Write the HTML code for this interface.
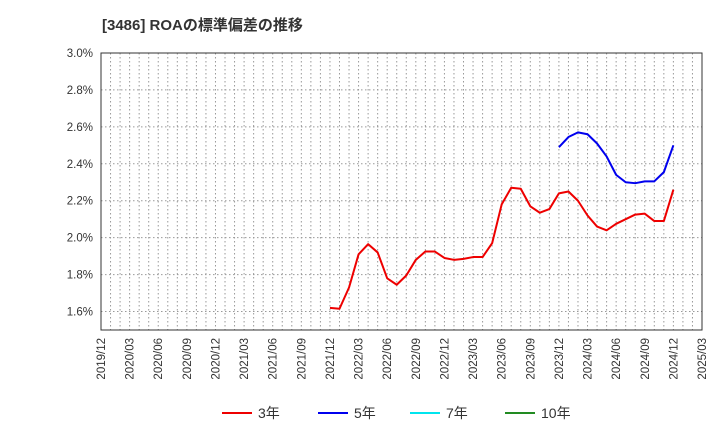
<!DOCTYPE html>
<html><head><meta charset="utf-8"><style>
body{margin:0;background:#fff;font-family:"Liberation Sans","Noto Sans CJK JP",sans-serif;}
</style></head><body>
<svg id="c" width="720" height="440" xmlns="http://www.w3.org/2000/svg" font-family="Liberation Sans, Noto Sans CJK JP, sans-serif">
<text x="102" y="30" font-size="15" font-weight="bold" fill="#333">[3486]  ROAの標準偏差の推移</text>
<g id="grid"></g><g id="axes"></g><g id="series"></g>
<g font-size="14" fill="#333">
<line x1="222" y1="413" x2="252" y2="413" stroke="#ee0000" stroke-width="2"/><text x="258" y="418">3年</text>
<line x1="318" y1="413" x2="348" y2="413" stroke="#0000ee" stroke-width="2"/><text x="354" y="418">5年</text>
<line x1="410" y1="413" x2="440" y2="413" stroke="#00e5ee" stroke-width="2"/><text x="446" y="418">7年</text>
<line x1="505" y1="413" x2="535" y2="413" stroke="#228b22" stroke-width="2"/><text x="541" y="418">10年</text>
</g>
</svg>
<script>
const yTicks=[1.6,1.8,2.0,2.2,2.4,2.6,2.8,3.0];
const xTickLabels=["2019/12","2020/03","2020/06","2020/09","2020/12","2021/03","2021/06","2021/09","2021/12","2022/03","2022/06","2022/09","2022/12","2023/03","2023/06","2023/09","2023/12","2024/03","2024/06","2024/09","2024/12","2025/03"];
const red3=[1.62,1.615,1.73,1.91,1.965,1.92,1.78,1.745,1.795,1.88,1.925,1.925,1.89,1.88,1.885,1.895,1.895,1.97,2.18,2.27,2.265,2.17,2.135,2.155,2.24,2.25,2.2,2.12,2.06,2.04,2.075,2.10,2.125,2.13,2.09,2.09,2.26];
const red3Start=24; // months after 2019/12
const blue5=[2.49,2.545,2.57,2.56,2.51,2.44,2.34,2.30,2.295,2.305,2.305,2.355,2.50];
const blue5Start=48;
const L=101,R=702,T=53,B=330,yMin=1.5,yMax=3.0,nMonths=63;
const X=m=>L+(R-L)*m/nMonths;
const Y=v=>B-(B-T)*(v-yMin)/(yMax-yMin);
const ns="http://www.w3.org/2000/svg";
function mk(t,a,p){const e=document.createElementNS(ns,t);for(const k in a)e.setAttribute(k,a[k]);p.appendChild(e);return e;}
const g=document.getElementById('grid'),ax=document.getElementById('axes'),s=document.getElementById('series');
for(let m=1;m<nMonths;m++){const l=mk('line',{x1:X(m),x2:X(m),y1:T,y2:B,stroke:'#999','stroke-dasharray':'1.5,2.5'},g);
}
yTicks.forEach(v=>{const l=mk('line',{x1:L,x2:R,y1:Y(v),y2:Y(v),stroke:'#999','stroke-dasharray':'1.5,2.5'},g);

const t=mk('text',{x:L-8,y:Y(v)+4,'text-anchor':'end','font-size':'11.5',fill:'#333'},ax);t.textContent=v.toFixed(1)+'%';
});
xTickLabels.forEach((lab,i)=>{const x=X(i*3);const t=mk('text',{x:x+4,y:B+8,'text-anchor':'end','font-size':'11.5',fill:'#333',transform:`rotate(-90 ${x+4} ${B+8})`},ax);t.textContent=lab;
});
const fr=mk('rect',{x:L,y:T,width:R-L,height:B-T,fill:'none',stroke:'#333'},ax);

function line(vals,start,col,name){const p=mk('polyline',{points:vals.map((v,i)=>X(start+i)+','+Y(v)).join(' '),fill:'none',stroke:col,'stroke-width':2,'stroke-linejoin':'round'},s);
}
line(red3,red3Start,'#ee0000','series-3y');
line(blue5,blue5Start,'#0000ee','series-5y');
</script>
</body></html>
